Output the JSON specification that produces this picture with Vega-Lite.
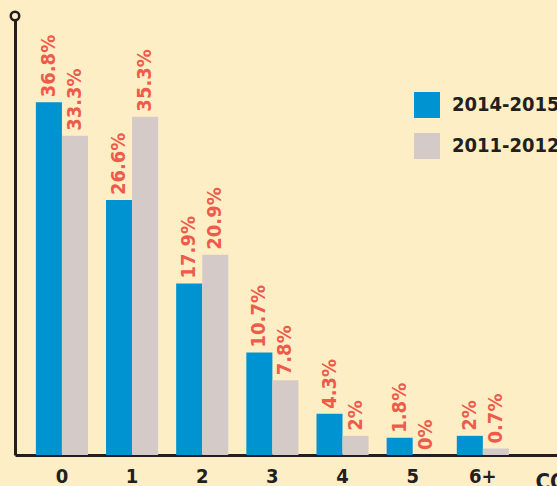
{
  "$schema": "https://vega.github.io/schema/vega-lite/v6.json",
  "width": 545,
  "height": 439,
  "autosize": {"type": "none"},
  "padding": {"left": 15, "top": 16, "right": 0, "bottom": 31},
  "background": "#FEEEC6",
  "config": {"view": {"stroke": null}},
  "layer": [
    {
      "data": {"values": [
        {"cat": "0", "period": "2014-2015", "value": 36.8, "label": "36.8%"},
        {"cat": "0", "period": "2011-2012", "value": 33.3, "label": "33.3%"},
        {"cat": "1", "period": "2014-2015", "value": 26.6, "label": "26.6%"},
        {"cat": "1", "period": "2011-2012", "value": 35.3, "label": "35.3%"},
        {"cat": "2", "period": "2014-2015", "value": 17.9, "label": "17.9%"},
        {"cat": "2", "period": "2011-2012", "value": 20.9, "label": "20.9%"},
        {"cat": "3", "period": "2014-2015", "value": 10.7, "label": "10.7%"},
        {"cat": "3", "period": "2011-2012", "value": 7.8, "label": "7.8%"},
        {"cat": "4", "period": "2014-2015", "value": 4.3, "label": "4.3%"},
        {"cat": "4", "period": "2011-2012", "value": 2.0, "label": "2%"},
        {"cat": "5", "period": "2014-2015", "value": 1.8, "label": "1.8%"},
        {"cat": "5", "period": "2011-2012", "value": 0.0, "label": "0%"},
        {"cat": "6+", "period": "2014-2015", "value": 2.0, "label": "2%"},
        {"cat": "6+", "period": "2011-2012", "value": 0.68, "label": "0.7%"}
      ]},
      "encoding": {
        "x": {
          "field": "cat", "type": "nominal",
          "sort": ["0", "1", "2", "3", "4", "5", "6+"],
          "scale": {"paddingInner": 0.257, "paddingOuter": 0.513, "align": 0.29},
          "axis": {
            "title": "CO",
            "domainColor": "#231F20", "domainWidth": 3,
            "ticks": false, "labelAngle": 0,
            "labelFont": "DejaVu Sans Condensed", "labelFontWeight": "bold", "labelFontSize": 20,
            "labelColor": "#231F20", "labelPadding": 11,
            "titleX": 520, "titleY": 16, "titleAlign": "left", "titleBaseline": "top",
            "titleFont": "DejaVu Sans Condensed", "titleFontSize": 22, "titleFontWeight": "bold",
            "titleColor": "#231F20"
          }
        },
        "xOffset": {
          "field": "period", "type": "nominal",
          "sort": ["2014-2015", "2011-2012"],
          "scale": {"paddingInner": 0, "paddingOuter": 0}
        },
        "y": {
          "field": "value", "type": "quantitative",
          "scale": {"domain": [0, 45.8], "nice": false, "zero": true},
          "axis": {"domain": true, "domainColor": "#231F20", "domainWidth": 3, "ticks": false, "labels": false, "grid": false, "title": null}
        }
      },
      "layer": [
        {
          "mark": {"type": "bar", "stroke": null},
          "encoding": {
            "color": {
              "field": "period", "type": "nominal",
              "sort": ["2014-2015", "2011-2012"],
              "scale": {"range": ["#0093D1", "#D4CBC8"]},
              "legend": {
                "title": null, "orient": "none", "legendX": 399, "legendY": 76,
                "symbolType": "square", "symbolSize": 676, "symbolStrokeWidth": 0,
                "symbolOpacity": 1,
                "labelFont": "DejaVu Sans Condensed", "labelFontWeight": "bold", "labelFontSize": 20,
                "labelColor": "#231F20", "labelOffset": 12, "rowPadding": 15,
                "padding": 0, "labelLimit": 0
              }
            }
          }
        },
        {
          "mark": {
            "type": "text", "angle": 270, "align": "left", "baseline": "middle",
            "dx": 5, "font": "DejaVu Sans Condensed", "fontWeight": "bold", "fontSize": 20,
            "color": "#EF5B4B"
          },
          "encoding": {"text": {"field": "label"}}
        }
      ]
    },
    {
      "data": {"values": [{"t": 0, "v": 45.8}]},
      "mark": {"type": "point", "shape": "circle", "fill": "#FEEEC6", "stroke": "#231F20", "strokeWidth": 2.5, "size": 72, "opacity": 1, "filled": false, "fillOpacity": 1},
      "encoding": {
        "x": {"field": "t", "type": "quantitative", "scale": {"domain": [0, 1]}, "axis": null},
        "y": {"field": "v", "type": "quantitative"}
      }
    }
  ],
  "resolve": {"scale": {"x": "independent"}}
}
